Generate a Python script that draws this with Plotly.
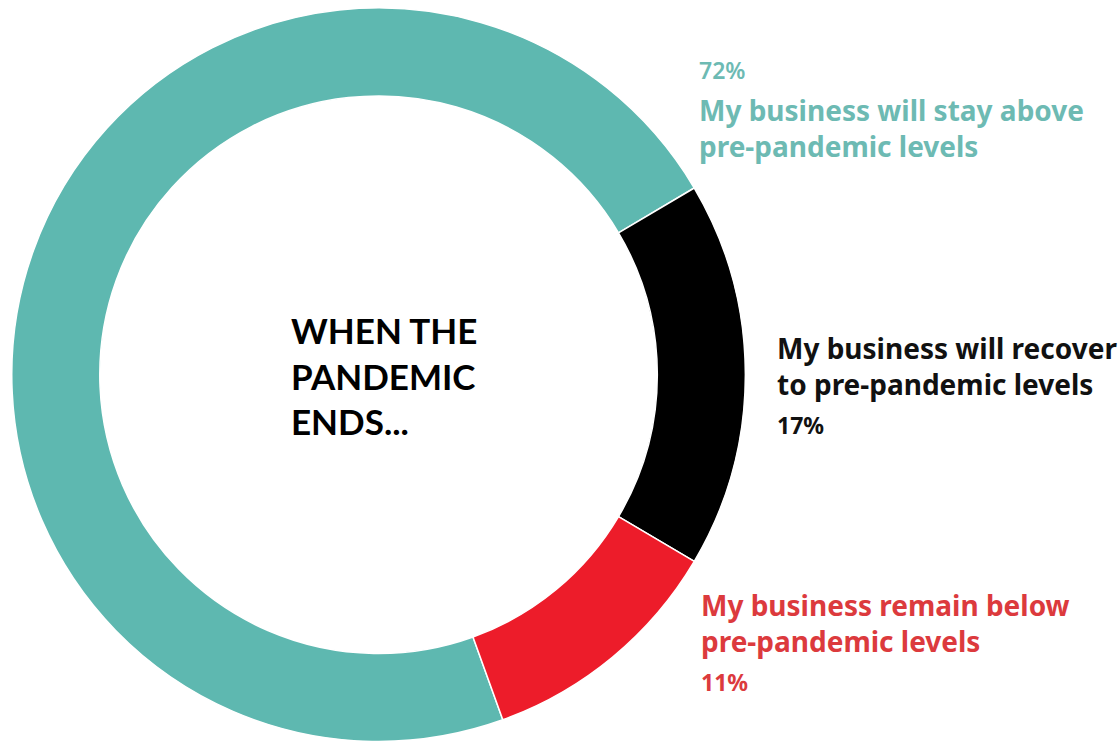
import plotly.graph_objects as go

# Survey answers, in drawing order (clockwise)
labels = [
    "My business will stay above pre-pandemic levels",
    "My business will recover to pre-pandemic levels",
    "My business remain below pre-pandemic levels",
]
shares = [72, 17, 11]
slice_colors = ["#5eb8b0", "#000000", "#ed1c2a"]
text_colors = ["#6dbab3", "#111111", "#dc3a3d"]

W, H = 1120, 742
HEAD_FONT = "Lato, 'Noto Sans', sans-serif"
LABEL_FONT = "'Noto Sans', Lato, sans-serif"


def px(x):
    return x / W


def py(y):
    return 1 - y / H


fig = go.Figure(
    go.Pie(
        labels=labels,
        values=shares,
        hole=0.76,
        sort=False,
        direction="clockwise",
        rotation=160.2,
        marker=dict(colors=slice_colors, line=dict(color="white", width=1.5)),
        textinfo="none",
        hoverinfo="label+percent",
        showlegend=False,
        domain=dict(x=[0.0105, 0.6655], y=[0.0, 0.99]),
    )
)

annotations = []


def add_text(text, x, y_top, size, color, family=LABEL_FONT, weight="bold"):
    annotations.append(
        dict(
            text=text,
            x=px(x),
            y=py(y_top),
            xref="paper",
            yref="paper",
            xanchor="left",
            yanchor="top",
            align="left",
            showarrow=False,
            font=dict(family=family, size=size, color=color, weight=weight),
        )
    )


# Center heading
add_text("WHEN THE<br>PANDEMIC<br>ENDS...", 289, 307, 35, "#000000", family=HEAD_FONT)

# Teal block
add_text(f"{shares[0]}%", 697, 52, 23, text_colors[0], weight=600)
add_text("My business will stay above<br>pre-pandemic levels", 697, 89, 28, text_colors[0])

# Black block
add_text("My business will recover<br>to pre-pandemic levels", 775, 327, 28, text_colors[1])
add_text(f"{shares[1]}%", 775, 407, 23, text_colors[1])

# Red block
add_text("My business remain below<br>pre-pandemic levels", 699, 584, 28, text_colors[2])
add_text(f"{shares[2]}%", 699, 664, 23, text_colors[2])

fig.update_layout(
    width=W,
    height=H,
    margin=dict(l=0, r=0, t=0, b=0),
    paper_bgcolor="white",
    plot_bgcolor="white",
    annotations=annotations,
)

fig.write_html("out.html")
